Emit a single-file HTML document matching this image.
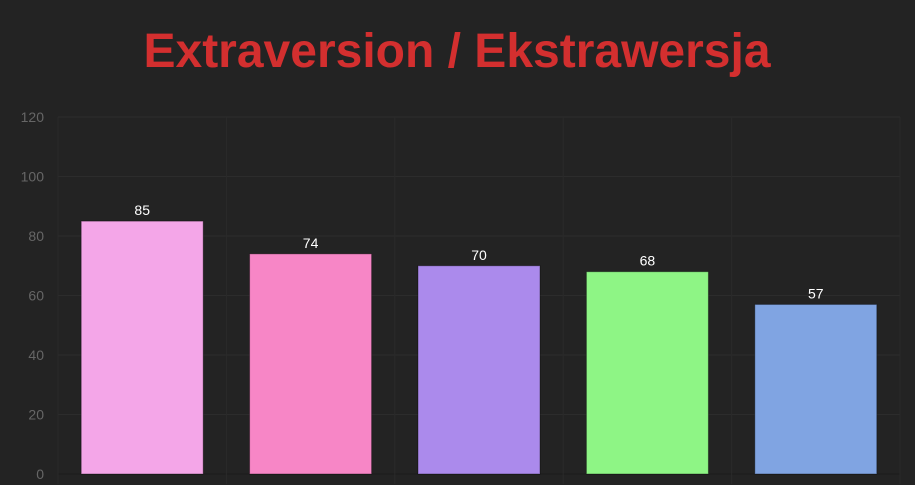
<!DOCTYPE html>
<html><head><meta charset="utf-8"><style>
html,body{margin:0;padding:0;background:#232323;width:915px;height:485px;overflow:hidden}
svg{display:block}
</style></head><body>
<svg id="chart" width="915" height="485" xmlns="http://www.w3.org/2000/svg">
<rect width="915" height="485" fill="#232323"/>
<text x="457" y="67" text-anchor="middle" font-family="Liberation Sans, sans-serif" font-weight="bold" font-size="48" fill="#d32f2f">Extraversion / Ekstrawersja</text>
<g id="grid"></g><g id="bars"></g><g id="labels"></g>
</svg>
<script>
const categories = ["A","B","C","D","E"];
const values = [85,74,70,68,57];
const colors = ["#f4a6e8","#f786c6","#ab8aec","#8ef585","#80a4e2"];
const ticks = [0,20,40,60,80,100,120];
const NS="http://www.w3.org/2000/svg";
const x0=58,x1=900,y0=474,y1=117,yMax=120;
const y=v=>y0-(v/yMax)*(y0-y1);
const bw=(x1-x0)/categories.length;
const xc=i=>x0+bw*(i+0.5);
function mk(t,a,p){const e=document.createElementNS(NS,t);for(const k in a)e.setAttribute(k,a[k]);p.appendChild(e);return e;}
const g=document.getElementById('grid'),b=document.getElementById('bars'),l=document.getElementById('labels');
ticks.forEach(t=>{
  const ln=mk('line',{x1:x0,x2:x1,y1:y(t),y2:y(t),stroke:t===0?'#1b1b1b':'#2c2c2c','stroke-width':1},g);
  
  
  const tx=mk('text',{x:44,y:y(t)+5,'text-anchor':'end','font-family':'Liberation Sans, sans-serif','font-size':14,fill:'#666'},g);
  tx.textContent=t;
  
  
});
for(let i=0;i<=categories.length;i++){
  const ln=mk('line',{x1:x0+bw*i,x2:x0+bw*i,y1:y1,y2:y0+10,stroke:'#2a2a2a','stroke-width':1},g);
  
  
}
values.forEach((v,i)=>{
  const w=122;
  const r=mk('rect',{x:xc(i)-w/2,y:y(v),width:w,height:y0-y(v),fill:colors[i],stroke:'rgba(0,0,0,0.35)','stroke-width':1},b);
  
  
  const t=mk('text',{x:xc(i),y:y(v)-6,'text-anchor':'middle','font-family':'Liberation Sans, sans-serif','font-size':14,fill:'#fff'},l);
  t.textContent=v;
  
  
});
</script>
</body></html>
